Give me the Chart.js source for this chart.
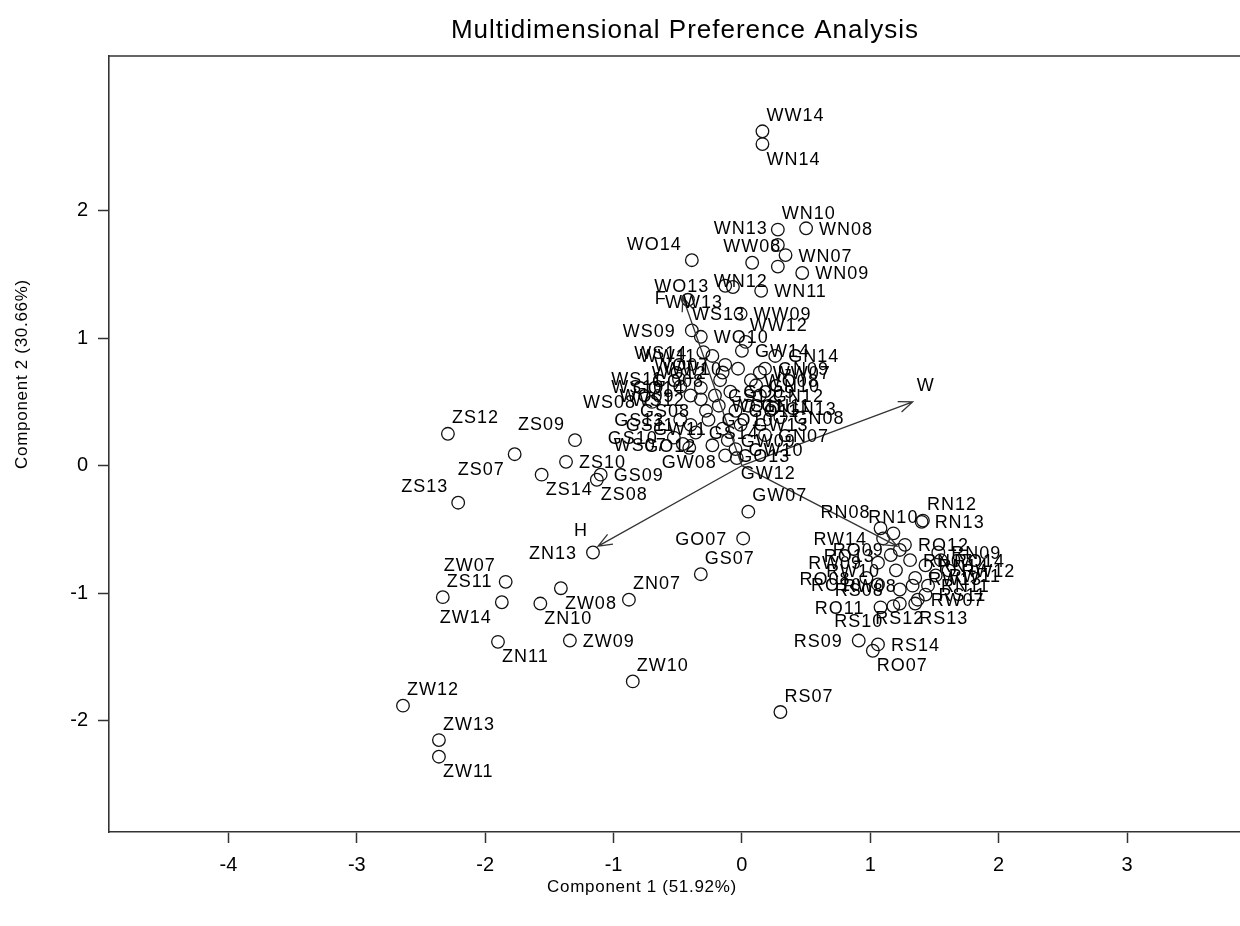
<!DOCTYPE html>
<html><head><meta charset="utf-8">
<script src="https://cdn.jsdelivr.net/npm/chart.js@4.4.1/dist/chart.umd.min.js"></script>
<style>html,body{margin:0;padding:0;background:#fff}canvas{display:block}</style>
</head><body>
<canvas id="c" width="1240" height="926"></canvas>
<script>
// ---- data ----
const pointNames = [
 'ZS07','ZS08','ZS09','ZS10','ZS11','ZS12','ZS13','ZS14',
 'ZW07','ZW08','ZW09','ZW10','ZW11','ZW12','ZW13','ZW14',
 'ZN07','ZN10','ZN11','ZN13',
 'GS07','GS08','GS09','GS10','GS11','GS12','GS13','GS14',
 'GW07','GW08','GW09','GW10','GW11','GW12','GW13','GW14',
 'GN07','GN08','GN09','GN10','GN11','GN12','GN13','GN14',
 'GO07','GO08','GO09','GO10','GO11','GO12','GO13','GO14',
 'WW07','WW08','WW09','WW10','WW11','WW12','WW13','WW14',
 'WN07','WN08','WN09','WN10','WN11','WN12','WN13','WN14',
 'WS07','WS08','WS09','WS10','WS11','WS12','WS13','WS14',
 'WO07','WO08','WO09','WO10','WO11','WO12','WO13','WO14',
 'RN07','RN08','RN09','RN10','RN11','RN12','RN13','RN14',
 'RW07','RW08','RW09','RW10','RW11','RW12','RW13','RW14',
 'RS07','RS08','RS09','RS10','RS11','RS12','RS13','RS14',
 'RO07','RO08','RO09','RO10','RO11','RO12','RO13','RO14'
];
const comp1 = [
 -1.77,-1.13,-1.30,-1.37,-2.33,-2.29,-2.21,-1.56,
 -1.84,-1.41,-1.34,-0.85,-2.36,-2.64,-2.36,-1.87,
 -0.88,-1.57,-1.90,-1.16,
 -0.32,-0.28,-1.10,-0.53,-0.40,-0.21,-0.48,-0.36,
 0.05,-0.41,-0.11,-0.05,-0.15,-0.04,-0.01,0.00,
 0.18,0.30,0.18,0.11,0.05,0.14,0.24,0.26,
 0.01,-0.17,-0.09,-0.26,-0.05,-0.23,-0.13,-0.32,
 0.14,0.08,-0.01,-0.03,-0.23,0.03,-0.07,0.16,
 0.34,0.50,0.47,0.28,0.15,0.28,0.28,0.16,
 -0.46,-0.70,-0.39,-0.48,-0.49,-0.32,-0.42,-0.30,
 -0.13,0.07,-0.40,-0.32,-0.18,-0.15,-0.13,-0.39,
 1.31,1.08,1.53,1.18,1.45,1.41,1.40,1.43,
 1.37,1.33,1.06,1.20,1.51,1.61,1.35,1.10,
 0.30,1.23,0.91,1.18,1.43,1.23,1.35,1.06,
 1.02,0.97,1.23,1.06,1.08,1.27,1.16,1.55
];
const comp2 = [
 0.09,-0.11,0.20,0.03,-1.03,0.25,-0.29,-0.07,
 -0.91,-0.96,-1.37,-1.69,-2.28,-1.88,-2.15,-1.07,
 -1.05,-1.08,-1.38,-0.68,
 -0.85,0.43,-0.07,0.22,0.32,0.55,0.36,0.26,
 -0.36,0.14,0.20,0.13,0.29,0.06,0.32,0.90,
 0.24,0.38,0.76,0.63,0.47,0.55,0.45,0.86,
 -0.57,0.67,0.58,0.36,0.43,0.16,0.08,0.61,
 0.73,1.59,1.19,0.76,0.86,0.97,1.40,2.62,
 1.65,1.86,1.51,1.85,1.37,1.56,1.73,2.52,
 0.17,0.50,1.06,0.62,0.68,0.52,1.30,0.89,
 0.79,0.67,0.55,1.01,0.47,0.73,1.41,1.61,
 -0.74,-0.49,-0.68,-0.53,-0.94,-0.43,-0.44,-0.78,
 -1.05,-0.94,-0.76,-0.82,-0.86,-0.82,-0.88,-0.57,
 -1.93,-0.97,-1.37,-1.10,-1.01,-1.08,-1.08,-1.40,
 -1.45,-0.88,-0.66,-0.93,-1.11,-0.62,-0.70,-0.74
];
const vectorNames = ['W','H','F',''];
const vectorComp1 = [1.33,-1.12,-0.46,1.21];
const vectorComp2 = [0.50,-0.63,1.32,-0.63];
const xTickValues = [-4,-3,-2,-1,0,1,2,3];
const yTickValues = [-2,-1,0,1,2];
const chartTitle = 'Multidimensional Preference Analysis';
const xTitle = 'Component 1 (51.92%)';
const yTitle = 'Component 2 (30.66%)';

// ---- label placement (style) ----
const labelPos = [
 'SW','SE','NW','E','NE','NE','NW','SE',
 'NW','SE','E','NE','SE','NE','NE','SW',
 'NE','SE','SE','W',
 'NE','W','E','W','W','E','W','E',
 'NE','S','E','E','W','SE','E','E',
 'E','E','E','E','E','E','E','E',
 'W','W','E','E','E','W','E','W',
 'E','N','E','W','W','NE','SW','NE',
 'E','E','E','NE','E','SW','NW','SE',
 'W','W','W','W','W','W','SE','W',
 'W','E','W','E','E','W','W','NW',
 'E','NW','E','N','E','NE','E','E',
 'E','W','W','W','E','E','E','W',
 'NE','W','W','SW','E','S','SE','E',
 'SE','W','W','W','W','E','W','E'
];
const vectorLabelPos = ['NE','NW','W',''];

const FONT = "'Liberation Sans', Arial, Helvetica, sans-serif";
const OFF = {E:[13,0,'left'], W:[-16,0,'right'], NE:[4,-17,'left'], NW:[-10,-17,'right'],
             SE:[4,14,'left'], SW:[-10,14,'right'], N:[0,-17,'center'], S:[0,14,'center']};

function drawLabel(ctx, text, x, y, pos){
  const o = OFF[pos] || OFF.E;
  ctx.textAlign = o[2];
  ctx.textBaseline = 'alphabetic';
  ctx.fillText(text, x + o[0], y + o[1] + 6.5);
}

const annot = {
  id:'annot',
  afterDatasetsDraw(chart){
    const ctx = chart.ctx, xs = chart.scales.x, ys = chart.scales.y;
    ctx.save();
    ctx.font = '18px ' + FONT;
    try { ctx.letterSpacing = '1px'; } catch(e) {}
    ctx.fillStyle = '#000';
    ctx.strokeStyle = '#333';
    ctx.lineWidth = 1.3;
    const ox = xs.getPixelForValue(0), oy = ys.getPixelForValue(0);
    vectorNames.forEach((n,i)=>{
      const tx = xs.getPixelForValue(vectorComp1[i]), ty = ys.getPixelForValue(vectorComp2[i]);
      const a = Math.atan2(ty-oy, tx-ox), L = 15, s = 0.38;
      ctx.beginPath();
      ctx.moveTo(ox,oy); ctx.lineTo(tx,ty);
      ctx.moveTo(tx - L*Math.cos(a-s), ty - L*Math.sin(a-s));
      ctx.lineTo(tx,ty);
      ctx.lineTo(tx - L*Math.cos(a+s), ty - L*Math.sin(a+s));
      ctx.stroke();
      if (n) drawLabel(ctx, n, tx, ty, vectorLabelPos[i]);
    });
    const meta = chart.getDatasetMeta(0);
    meta.data.forEach((el,i)=> drawLabel(ctx, pointNames[i], el.x, el.y, labelPos[i]));
    ctx.restore();
  },
  afterDraw(chart){
    const ctx = chart.ctx, ca = chart.chartArea;
    ctx.save();
    ctx.strokeStyle = '#333'; ctx.lineWidth = 1.6;
    ctx.beginPath(); ctx.moveTo(ca.left, ca.top); ctx.lineTo(ca.right, ca.top); ctx.stroke();
    ctx.fillStyle = '#000';
    ctx.textAlign = 'center'; ctx.textBaseline = 'middle';
    try { ctx.letterSpacing = '1px'; } catch(e) {}
    ctx.font = '26px ' + FONT;
    ctx.fillText(chartTitle, 685, 31);
    try { ctx.letterSpacing = '0.7px'; } catch(e) {}
    ctx.font = '17px ' + FONT;
    ctx.fillText(xTitle, 642, 887);
    ctx.translate(22, 374); ctx.rotate(-Math.PI/2);
    ctx.fillText(yTitle, 0, 0);
    ctx.restore();
  }
};

const axisCommon = {
  type:'linear',
  ticks:{color:'#000', font:{family:FONT, size:20}, callback:v=>String(v)},
  grid:{display:true, drawOnChartArea:false, drawTicks:true, tickLength:11, tickColor:'#333', tickWidth:1.5},
  border:{display:true, color:'#333', width:1.6}
};

new Chart(document.getElementById('c'), {
  type:'scatter',
  data:{datasets:[{
    data: pointNames.map((n,i)=>({x:comp1[i], y:comp2[i]})),
    pointRadius:6.3, pointHoverRadius:6.3, pointBorderWidth:1.3,
    borderColor:'#111', backgroundColor:'rgba(0,0,0,0)', pointStyle:'circle'
  }]},
  options:{
    responsive:false, animation:false, devicePixelRatio:1,
    layout:{autoPadding:false, padding:{top:56, left:0, right:0, bottom:0}},
    plugins:{legend:{display:false}, tooltip:{enabled:false}, title:{display:false}},
    scales:{
      x:Object.assign({}, axisCommon, {
        min:-4.93, max:3.88, position:'bottom',
        ticks:Object.assign({}, axisCommon.ticks, {padding:10}),
        afterBuildTicks:s=>{ s.ticks = xTickValues.map(v=>({value:v})); },
        afterFit:s=>{ s.height = 94; }
      }),
      y:Object.assign({}, axisCommon, {
        min:-2.87, max:3.21, position:'left',
        ticks:Object.assign({}, axisCommon.ticks, {padding:10}),
        afterBuildTicks:s=>{ s.ticks = yTickValues.map(v=>({value:v})); },
        afterFit:s=>{ s.width = 109; }
      })
    }
  },
  plugins:[annot]
});
</script>
</body></html>
